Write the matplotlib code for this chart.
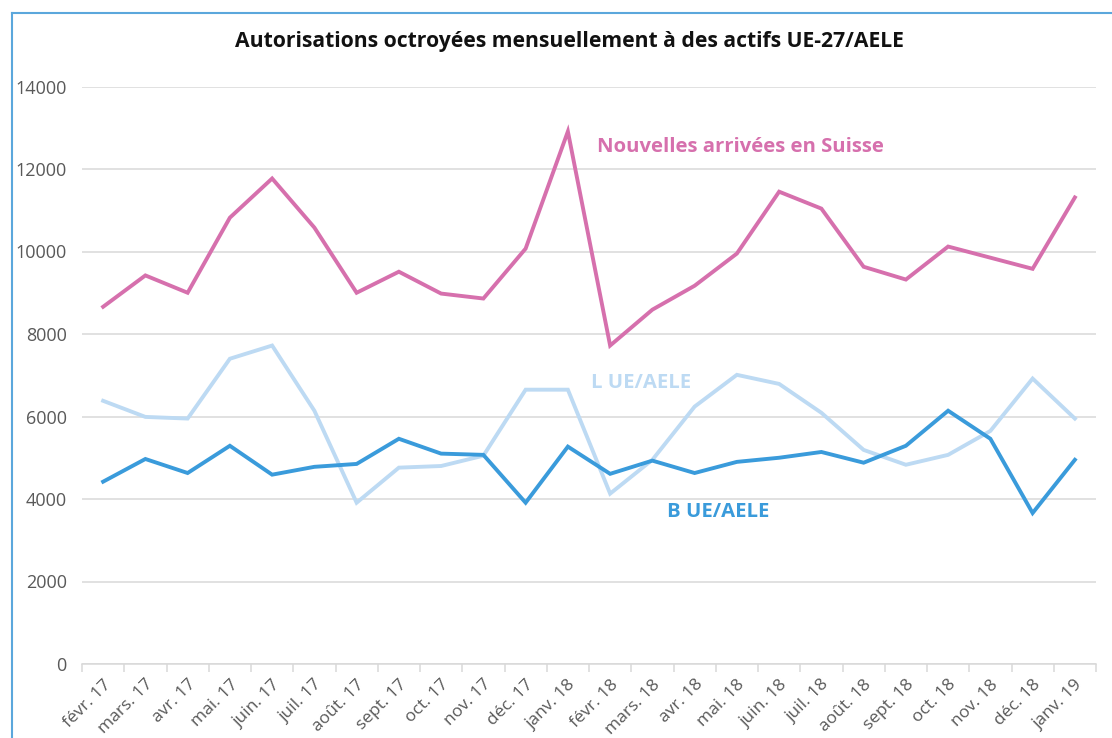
import matplotlib
matplotlib.use("Agg")
import matplotlib.pyplot as plt
import numpy as np
from matplotlib.lines import Line2D

months = ["févr. 17", "mars. 17", "avr. 17", "mai. 17", "juin. 17", "juil. 17",
          "août. 17", "sept. 17", "oct. 17", "nov. 17", "déc. 17", "janv. 18",
          "févr. 18", "mars. 18", "avr. 18", "mai. 18", "juin. 18", "juil. 18",
          "août. 18", "sept. 18", "oct. 18", "nov. 18", "déc. 18", "janv. 19"]

nouvelles = [8660, 9420, 9000, 10820, 11770, 10580, 9000, 9510, 8980, 8860, 10070, 12910,
             7720, 8590, 9170, 9950, 11450, 11040, 9630, 9320, 10120, 9850, 9580, 11310]
l_ue = [6380, 5990, 5950, 7400, 7720, 6140, 3910, 4760, 4800, 5050, 6650, 6650,
        4130, 4950, 6240, 7010, 6790, 6090, 5190, 4830, 5070, 5650, 6920, 5950]
b_ue = [4420, 4970, 4630, 5290, 4590, 4780, 4850, 5460, 5100, 5070, 3910, 5270,
        4610, 4930, 4630, 4900, 5000, 5140, 4880, 5290, 6140, 5460, 3660, 4950]

PINK = "#D670AD"
LIGHT = "#BDDAF3"
BLUE = "#3A9BDB"
GRAY = "#595959"
GRID = "#D9D9D9"

plt.rcParams["font.family"] = ["Open Sans", "DejaVu Sans"]

fig = plt.figure(figsize=(11.12, 7.38), dpi=100)
ax = fig.add_axes([82 / 1112, 1 - 664 / 738, (1096 - 82) / 1112, (664 - 86.5) / 738])

x = np.arange(len(months))
ax.plot(x, l_ue, color=LIGHT, lw=2.8, solid_joinstyle="miter")
ax.plot(x, b_ue, color=BLUE, lw=2.8, solid_joinstyle="miter")
ax.plot(x, nouvelles, color=PINK, lw=2.8, solid_joinstyle="miter")

ax.set_xlim(-0.5, len(months) - 0.5)
ax.set_ylim(0, 14000)
ax.set_yticks(np.arange(0, 14001, 2000))
ax.yaxis.grid(True, color=GRID, lw=1.1)
ax.set_axisbelow(True)
ax.tick_params(axis="y", length=0, pad=11, labelsize=13, labelcolor=GRAY)

ax.set_xticks(x)
ax.set_xticklabels(months, rotation=45, ha="right", rotation_mode="anchor")
ax.tick_params(axis="x", length=0, pad=9, labelsize=12.5, labelcolor=GRAY)
ax.set_xticks(np.arange(-0.5, len(months), 1), minor=True)
ax.tick_params(axis="x", which="minor", length=6, width=1.1, color=GRID)

for s in ["top", "right", "left"]:
    ax.spines[s].set_visible(False)
ax.spines["bottom"].set_color(GRID)
ax.spines["bottom"].set_linewidth(1.1)

ax.text(11.7, 12530, "Nouvelles arrivées en Suisse", color=PINK, fontsize=14.6,
        fontweight="bold", va="center", ha="left")
ax.text(11.55, 6810, "L UE/AELE", color=LIGHT, fontsize=14.6,
        fontweight="bold", va="center", ha="left")
ax.text(13.35, 3680, "B UE/AELE", color=BLUE, fontsize=14.6,
        fontweight="bold", va="center", ha="left")

fig.text(569 / 1112, 1 - 42 / 738, "Autorisations octroyées mensuellement à des actifs UE-27/AELE",
         ha="center", va="center", fontsize=15.2, fontweight="bold", color="#111111")

# screenshot frame
fig.add_artist(Line2D([12 / 1112, 12 / 1112], [0, 1 - 13 / 738], color="#5BA7DC", lw=1.5))
fig.add_artist(Line2D([12 / 1112, 1], [1 - 13 / 738, 1 - 13 / 738], color="#5BA7DC", lw=1.5))

fig.savefig("out.png", dpi=100)
